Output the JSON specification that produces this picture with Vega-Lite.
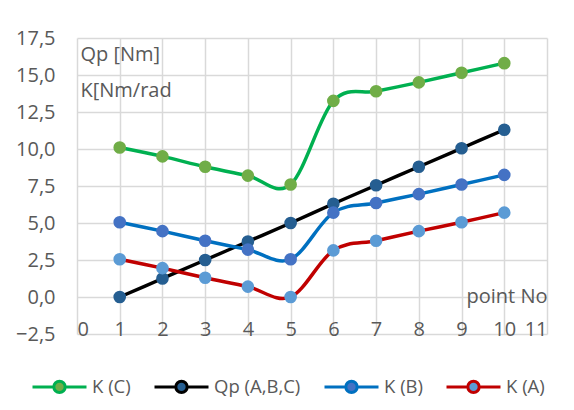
{
  "$schema": "https://vega.github.io/schema/vega-lite/v6.json",
  "width": 470,
  "height": 296,
  "autosize": {"type": "none"},
  "padding": {"left": 77, "top": 38, "right": 27, "bottom": 76},
  "background": "#ffffff",
  "config": {
    "view": {"stroke": null},
    "font": "Open Sans",
    "axis": {"labelFont": "Open Sans", "labelFontSize": 20, "labelColor": "#595959", "titleFont": "Open Sans", "titleFontSize": 20, "titleColor": "#595959", "titleFontWeight": "normal", "gridColor": "#D9D9D9", "gridWidth": 1.5, "domain": false, "ticks": false, "tickSize": 0}
  },
  "data": {"values": [
    {"x": 1, "series": "K (C)", "v": 10.1},
    {"x": 2, "series": "K (C)", "v": 9.5},
    {"x": 3, "series": "K (C)", "v": 8.8},
    {"x": 4, "series": "K (C)", "v": 8.2},
    {"x": 5, "series": "K (C)", "v": 7.6},
    {"x": 6, "series": "K (C)", "v": 13.25},
    {"x": 7, "series": "K (C)", "v": 13.9},
    {"x": 8, "series": "K (C)", "v": 14.5},
    {"x": 9, "series": "K (C)", "v": 15.15},
    {"x": 10, "series": "K (C)", "v": 15.8},
    {"x": 1, "series": "Qp (A,B,C)", "v": 0.0},
    {"x": 2, "series": "Qp (A,B,C)", "v": 1.25},
    {"x": 3, "series": "Qp (A,B,C)", "v": 2.5},
    {"x": 4, "series": "Qp (A,B,C)", "v": 3.75},
    {"x": 5, "series": "Qp (A,B,C)", "v": 5.0},
    {"x": 6, "series": "Qp (A,B,C)", "v": 6.3},
    {"x": 7, "series": "Qp (A,B,C)", "v": 7.55},
    {"x": 8, "series": "Qp (A,B,C)", "v": 8.8},
    {"x": 9, "series": "Qp (A,B,C)", "v": 10.05},
    {"x": 10, "series": "Qp (A,B,C)", "v": 11.3},
    {"x": 1, "series": "K (B)", "v": 5.05},
    {"x": 2, "series": "K (B)", "v": 4.45},
    {"x": 3, "series": "K (B)", "v": 3.8},
    {"x": 4, "series": "K (B)", "v": 3.2},
    {"x": 5, "series": "K (B)", "v": 2.55},
    {"x": 6, "series": "K (B)", "v": 5.7},
    {"x": 7, "series": "K (B)", "v": 6.35},
    {"x": 8, "series": "K (B)", "v": 6.95},
    {"x": 9, "series": "K (B)", "v": 7.6},
    {"x": 10, "series": "K (B)", "v": 8.25},
    {"x": 1, "series": "K (A)", "v": 2.55},
    {"x": 2, "series": "K (A)", "v": 1.95},
    {"x": 3, "series": "K (A)", "v": 1.3},
    {"x": 4, "series": "K (A)", "v": 0.7},
    {"x": 5, "series": "K (A)", "v": 0.0},
    {"x": 6, "series": "K (A)", "v": 3.15},
    {"x": 7, "series": "K (A)", "v": 3.8},
    {"x": 8, "series": "K (A)", "v": 4.45},
    {"x": 9, "series": "K (A)", "v": 5.05},
    {"x": 10, "series": "K (A)", "v": 5.7}
  ]},
  "encoding": {
    "x": {"field": "x", "type": "quantitative",
      "scale": {"domain": [0, 11], "nice": false, "zero": false},
      "axis": {"values": [0,1,2,3,4,5,6,7,8,9,10,11], "labelPadding": 1, "labelBaseline": "alphabetic", "title": "point No", "titleX": 470, "titleY": -32, "titleAlign": "right", "titleBaseline": "alphabetic", "titleAnchor": null}},
    "y": {"field": "v", "type": "quantitative",
      "scale": {"domain": [-2.5, 17.5], "nice": false, "zero": false},
      "axis": {"values": [-2.5,0,2.5,5,7.5,10,12.5,15,17.5], "labelExpr": "replace(format(datum.value, '.1f'), '.', ',')", "labelPadding": 22,
        "title": ["Qp [Nm]", "K[Nm/rad"], "titleAngle": 0, "titleAlign": "left", "titleBaseline": "alphabetic", "titleX": 3, "titleY": 22, "titleLineHeight": 36, "titleAnchor": null}}
  },
  "layer": [
    {
      "mark": {"type": "line", "interpolate": "cardinal", "strokeWidth": 3.5},
      "encoding": {
        "stroke": {"field": "series", "type": "nominal",
          "scale": {"domain": ["K (C)", "Qp (A,B,C)", "K (B)", "K (A)"], "range": ["#00B050", "#000000", "#0070C0", "#C00000"]},
          "legend": {"title": null, "orient": "none", "legendX": -46, "legendY": 320, "direction": "horizontal", "columns": 4,
            "symbolType": "M-1,0L-0.21,0M0.21,0L1,0M0.21,0A0.21,0.21 0 1,1 -0.21,0A0.21,0.21 0 1,1 0.21,0Z",
            "symbolSize": 2916, "symbolStrokeWidth": 3, "labelFont": "Open Sans", "labelFontSize": 18.5, "labelColor": "#595959", "labelOffset": 4, "columnPadding": 17, "padding": 0, "labelLimit": 300}},
        "order": {"field": "x", "type": "quantitative"}
      }
    },
    {
      "mark": {"type": "point", "filled": true, "size": 160, "opacity": 1, "shape": "circle"},
      "encoding": {
        "fill": {"field": "series", "type": "nominal",
          "scale": {"domain": ["K (C)", "Qp (A,B,C)", "K (B)", "K (A)"], "range": ["#70AD47", "#255E91", "#4472C4", "#5B9BD5"]},
          "legend": {"title": null, "orient": "none", "legendX": -46, "legendY": 320, "direction": "horizontal", "columns": 4,
            "symbolType": "M-1,0L-0.21,0M0.21,0L1,0M0.21,0A0.21,0.21 0 1,1 -0.21,0A0.21,0.21 0 1,1 0.21,0Z",
            "symbolSize": 2916, "symbolStrokeWidth": 3, "labelFont": "Open Sans", "labelFontSize": 18.5, "labelColor": "#595959", "labelOffset": 4, "columnPadding": 17, "padding": 0, "labelLimit": 300}}
      }
    }
  ]
}
